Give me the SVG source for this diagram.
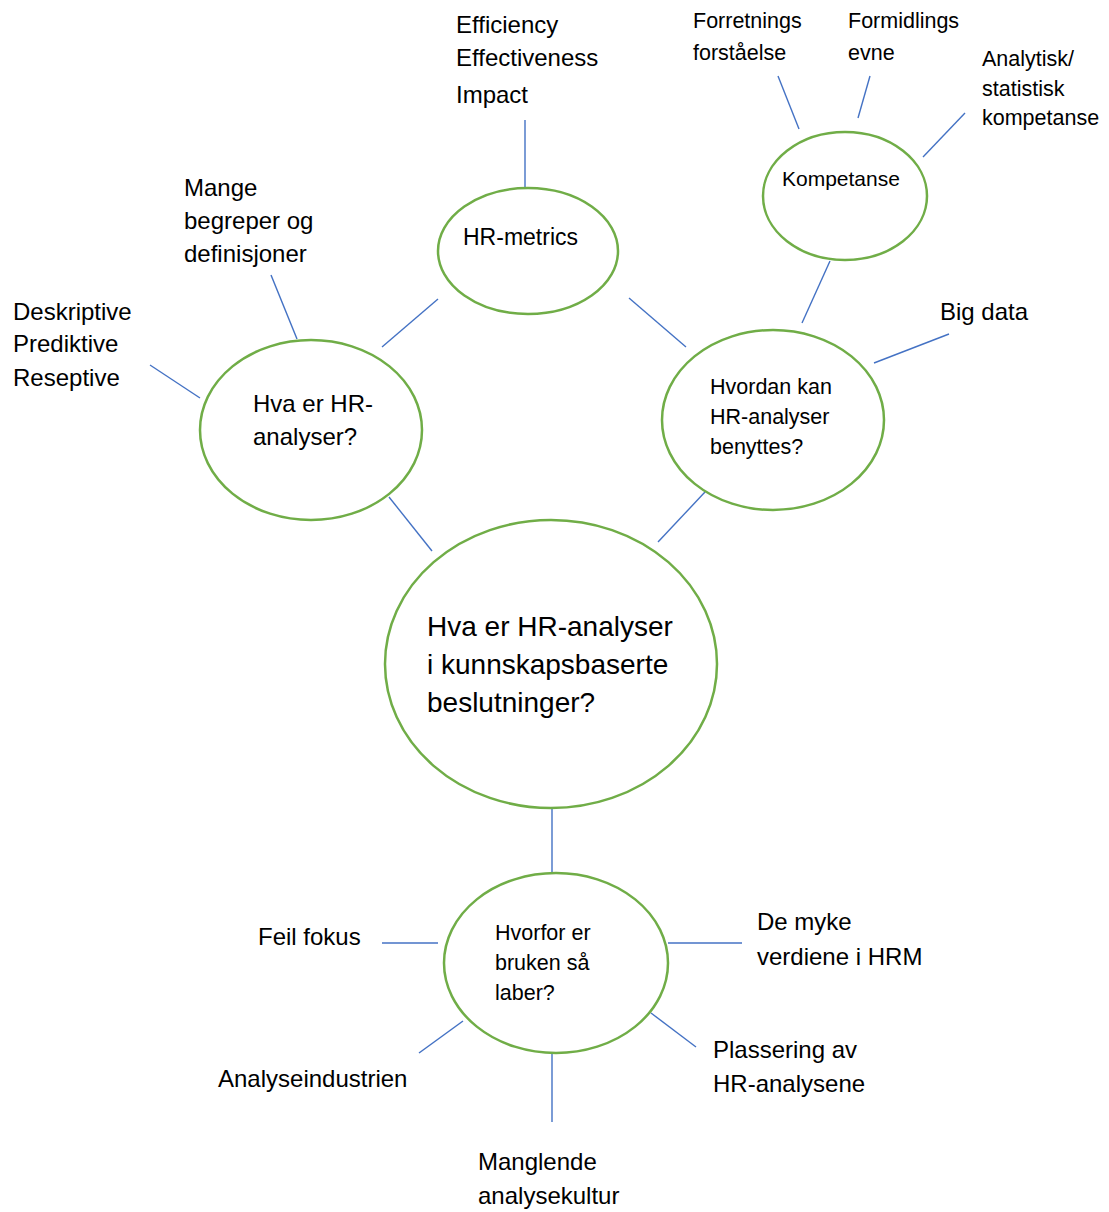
<svg xmlns="http://www.w3.org/2000/svg" width="1109" height="1212" viewBox="0 0 1109 1212">
<style>
.n{fill:#fff;stroke:#70AD47;stroke-width:2.5}
.c line{stroke:#4472C4;stroke-width:1.4}
text{font-family:"Liberation Sans",Arial,sans-serif;fill:#000}
.l{font-size:24px}
.s{font-size:21.5px}
.b{font-size:28px}
</style>
<rect width="1109" height="1212" fill="#fff"/>
<g class="c" id="connectors">
<line x1="389" y1="497" x2="432" y2="551"/>
<line x1="658" y1="542" x2="705" y2="492"/>
<line x1="552" y1="808" x2="552" y2="872"/>
<line x1="382" y1="347" x2="438" y2="299"/>
<line x1="629" y1="298" x2="686" y2="347"/>
<line x1="802" y1="323" x2="830" y2="261"/>
<line x1="525" y1="120" x2="525" y2="188"/>
<line x1="297" y1="339" x2="271" y2="275"/>
<line x1="150" y1="365" x2="200" y2="398"/>
<line x1="874" y1="363" x2="949" y2="334"/>
<line x1="778" y1="76" x2="799" y2="129"/>
<line x1="870" y1="76" x2="858" y2="118"/>
<line x1="965" y1="113" x2="923" y2="157"/>
<line x1="382" y1="943" x2="438" y2="943"/>
<line x1="668" y1="943" x2="742" y2="943"/>
<line x1="651" y1="1013" x2="696" y2="1047"/>
<line x1="463" y1="1021" x2="419" y2="1053"/>
<line x1="552" y1="1053" x2="552" y2="1122"/>
</g>
<g id="center">
<ellipse class="n" cx="551" cy="664" rx="166" ry="144"/>
<text class="b" x="427" y="636">Hva er HR-analyser</text>
<text class="b" x="427" y="674">i kunnskapsbaserte</text>
<text class="b" x="427" y="712">beslutninger?</text>
</g>
<g id="hva">
<ellipse class="n" cx="311" cy="430" rx="111" ry="90"/>
<text class="l" x="253" y="412">Hva er HR-</text>
<text class="l" x="253" y="445">analyser?</text>
</g>
<g id="metrics">
<ellipse class="n" cx="528" cy="251" rx="90" ry="63"/>
<text x="463" y="245" font-size="23">HR-metrics</text>
</g>
<g id="hvordan">
<ellipse class="n" cx="773" cy="420" rx="111" ry="90"/>
<text class="s" x="710" y="394">Hvordan kan</text>
<text class="s" x="710" y="424">HR-analyser</text>
<text class="s" x="710" y="454">benyttes?</text>
</g>
<g id="kompetanse">
<ellipse class="n" cx="845" cy="196" rx="82" ry="64"/>
<text x="782" y="186" font-size="21">Kompetanse</text>
</g>
<g id="hvorfor">
<ellipse class="n" cx="556" cy="963" rx="112" ry="90"/>
<text class="s" x="495" y="940">Hvorfor er</text>
<text class="s" x="495" y="970">bruken så</text>
<text class="s" x="495" y="1000">laber?</text>
</g>
<g id="labels">
<text class="l" x="456" y="33">Efficiency</text>
<text class="l" x="456" y="66">Effectiveness</text>
<text class="l" x="456" y="103">Impact</text>
<text class="l" x="184" y="196">Mange</text>
<text class="l" x="184" y="229">begreper og</text>
<text class="l" x="184" y="262">definisjoner</text>
<text class="l" x="13" y="320">Deskriptive</text>
<text class="l" x="13" y="352">Prediktive</text>
<text class="l" x="13" y="386">Reseptive</text>
<text class="s" x="693" y="28">Forretnings</text>
<text class="s" x="693" y="60">forståelse</text>
<text class="s" x="848" y="28">Formidlings</text>
<text class="s" x="848" y="60">evne</text>
<text class="s" x="982" y="66">Analytisk/</text>
<text class="s" x="982" y="96">statistisk</text>
<text class="s" x="982" y="125">kompetanse</text>
<text class="l" x="940" y="320">Big data</text>
<text class="l" x="258" y="945">Feil fokus</text>
<text class="l" x="757" y="930">De myke</text>
<text class="l" x="757" y="965">verdiene i HRM</text>
<text class="l" x="713" y="1058">Plassering av</text>
<text class="l" x="713" y="1092">HR-analysene</text>
<text class="l" x="218" y="1087">Analyseindustrien</text>
<text class="l" x="478" y="1170">Manglende</text>
<text class="l" x="478" y="1204">analysekultur</text>
</g>
</svg>
